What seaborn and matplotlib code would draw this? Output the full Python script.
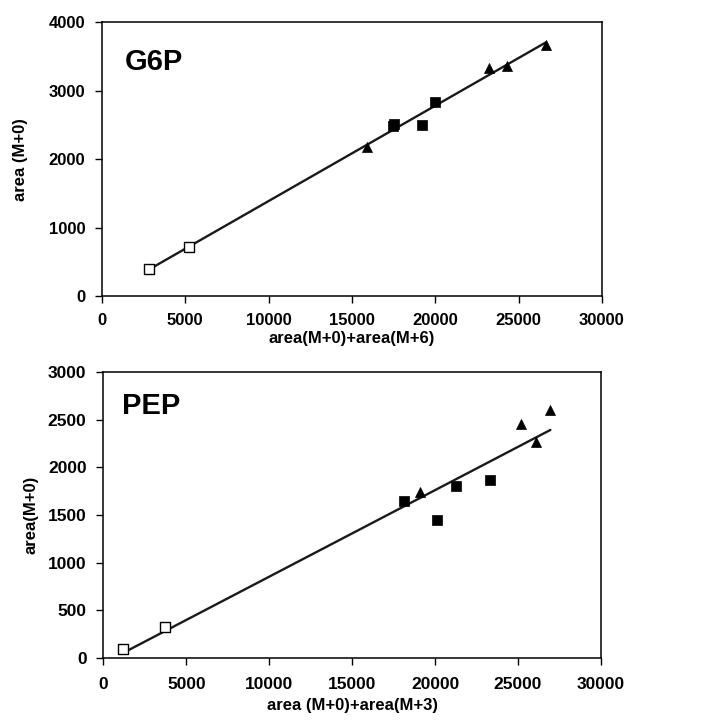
import matplotlib
matplotlib.use("Agg")
import matplotlib.pyplot as plt
import seaborn as sns
import numpy as np
import pandas as pd

sns.set_style("white")
plt.rcParams['font.family'] = ['Liberation Sans', 'DejaVu Sans']
plt.rcParams['font.weight'] = 'bold'
plt.rcParams['text.color'] = 'black'
plt.rcParams['axes.labelcolor'] = 'black'
plt.rcParams['xtick.color'] = 'black'
plt.rcParams['ytick.color'] = 'black'

# G6P data
g6p_open_x = [2850, 5200]
g6p_open_y = [390, 716]
g6p_sq_x = [17450, 17500, 19200, 20000]
g6p_sq_y = [2480, 2520, 2495, 2830]
g6p_tri_x = [15900, 23250, 24300, 26650]
g6p_tri_y = [2180, 3330, 3360, 3670]

# PEP data
pep_open_x = [1200, 3740]
pep_open_y = [95, 325]
pep_sq_x = [18100, 20100, 21230, 23320]
pep_sq_y = [1643, 1444, 1800, 1870]
pep_tri_x = [19100, 25150, 26060, 26950]
pep_tri_y = [1740, 2450, 2270, 2605]

fig = plt.figure(figsize=(7.05, 7.24), dpi=100)
ax1 = fig.add_axes([0.1447, 0.591, 0.709, 0.378])
ax2 = fig.add_axes([0.1465, 0.0912, 0.706, 0.395])


def draw(ax, ox, oy, sx, sy, tx, ty, title, xlabel, ylabel, ymax, ystep,
         lblsize, xpad, ylpad, xlpad, tx0, ty0):
    allx = ox + sx + tx
    ally = oy + sy + ty
    df = pd.DataFrame({'x': allx, 'y': ally})
    sns.regplot(data=df, x='x', y='y', ax=ax, scatter=False, ci=None, truncate=True,
                line_kws=dict(color='#1a1a1a', lw=1.7))
    sns.scatterplot(x=ox, y=oy, ax=ax, marker='s', s=42, facecolor='white',
                    edgecolor='black', linewidth=1.0, zorder=3)
    sns.scatterplot(x=sx, y=sy, ax=ax, marker='s', s=50, color='black',
                    edgecolor='black', linewidth=0.5, zorder=3)
    sns.scatterplot(x=tx, y=ty, ax=ax, marker='^', s=52, color='black',
                    edgecolor='black', linewidth=0.5, zorder=3)
    ax.set_xlim(0, 30000)
    ax.set_ylim(0, ymax)
    ax.set_xticks(np.arange(0, 30001, 5000))
    ax.set_yticks(np.arange(0, ymax + 1, ystep))
    ax.tick_params(axis='both', direction='out', length=5, width=1, color='black',
                   labelsize=lblsize, left=True, bottom=True)
    ax.tick_params(axis='x', pad=xpad)
    ax.tick_params(axis='y', pad=7)
    for lab in ax.get_xticklabels() + ax.get_yticklabels():
        lab.set_fontweight('bold')
    for sp in ax.spines.values():
        sp.set_visible(True)
        sp.set_color('black')
        sp.set_linewidth(1.1)
    ax.set_xlabel(xlabel, fontsize=12, fontweight='bold', labelpad=xlpad)
    ax.set_ylabel(ylabel, fontsize=12, fontweight='bold', labelpad=ylpad)
    ax.text(tx0, ty0, title, transform=ax.transAxes, fontsize=21,
            fontweight='bold', va='top', ha='left')


draw(ax1, g6p_open_x, g6p_open_y, g6p_sq_x, g6p_sq_y, g6p_tri_x, g6p_tri_y,
     'G6P', 'area(M+0)+area(M+6)', 'area (M+0)', 4000, 1000, 12, 7, 15, 2,
     0.045, 0.905)
draw(ax2, pep_open_x, pep_open_y, pep_sq_x, pep_sq_y, pep_tri_x, pep_tri_y,
     'PEP', 'area (M+0)+area(M+3)', 'area(M+0)', 3000, 500, 12.5, 9, 7, 4,
     0.038, 0.93)

fig.savefig('out.png', dpi=100)
